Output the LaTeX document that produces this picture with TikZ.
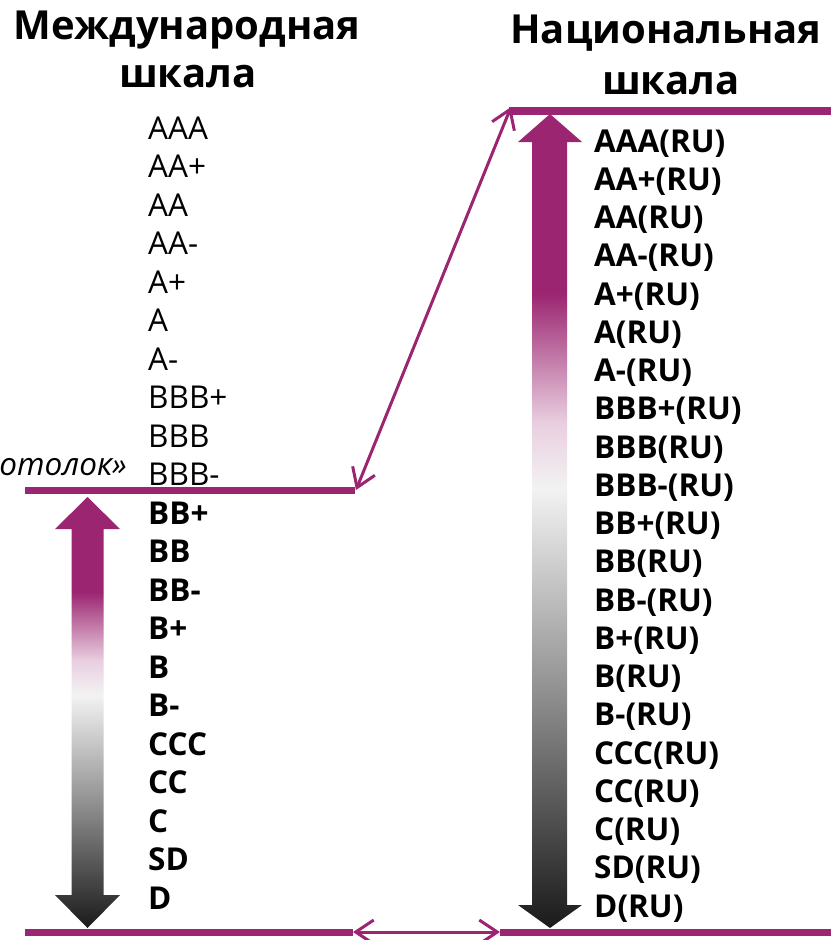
\documentclass[tikz,border=0pt]{standalone}
\usepackage{fontspec}
\setmainfont{Open Sans}
\usetikzlibrary{arrows.meta}
\definecolor{plum}{RGB}{155,37,113}
\definecolor{inkdark}{RGB}{26,26,26}
% vertical fill of the block arrows: plum at the top, white in the middle, near-black at the bottom
\pgfdeclareverticalshading{scalefade}{100bp}{%
  color(0bp)=(inkdark); color(25bp)=(inkdark); color(40bp)=(black!42);
  color(52bp)=(black!5); color(56bp)=(plum!22); color(64bp)=(plum); color(100bp)=(plum)}
\tikzset{
  rule/.style={draw=plum, line width=7pt},
  link/.style={draw=plum, line width=3pt,
    {Straight Barb[length=18pt,width=24pt]}-{Straight Barb[length=18pt,width=24pt]}},
  title/.style={anchor=base, inner sep=0pt, font=\fontsize{40}{46}\selectfont\bfseries},
  grade/.style={anchor=base west, inner sep=0pt, font=\fontsize{31.5}{36}\selectfont},
  natgrade/.style={grade, font=\fontsize{31.5}{36}\selectfont\bfseries},
  blockarrow/.style={shading=scalefade, draw=none}
}
\begin{document}
\begin{tikzpicture}[x=1pt,y=-1pt]
\useasboundingbox (0,0) rectangle (831,940);

% headings
\node[title] (intlA) at (187,39) {Международная};
\node[title] (intlB) at (188,87) {шкала};
\node[title] (natA) at (666,43) {Национальная};
\node[title] (natB) at (671,94) {шкала};

% horizontal rules
\coordinate (lcapL) at (25,490);  \coordinate (lcapR) at (355,490);
\coordinate (rtopL) at (509,111); \coordinate (rtopR) at (831,111);
\coordinate (lbotL) at (25,932);  \coordinate (lbotR) at (353,932);
\coordinate (rbotL) at (500,932); \coordinate (rbotR) at (831,932);
\draw[rule] (lcapL) -- (lcapR);
\draw[rule, line width=8pt] (rtopL) -- (rtopR);
\draw[rule] (lbotL) -- (lbotR);
\draw[rule] (rbotL) -- (rbotR);

% links between the two scales
\draw[link] ([xshift=1pt]lcapR) -- ([shift={(2pt,4pt)}]rtopL);
\draw[link] (lbotR) -- (rbotL);

% left double block arrow
\path[blockarrow] (87.5,497) -- (120,529) -- (103.5,529) -- (103.5,895)
  -- (120,895) -- (87.5,928) -- (55,895) -- (71.5,895) -- (71.5,529)
  -- (55,529) -- cycle;
% right double block arrow
\path[blockarrow] (550,114) -- (582,142) -- (567,142) -- (567,905)
  -- (582,905) -- (550,928) -- (518,905) -- (532,905) -- (532,142)
  -- (518,142) -- cycle;

% international grades
\foreach \g [count=\i] in {AAA,AA+,AA,AA-,A+,A,A-,BBB+,BBB,BBB-,BB+,BB,BB-,B+,B,B-,CCC,CC,C,SD,D}
  \node[grade] (int\i) at (148,{139+(\i-1)*38.5}) {\ifnum\i>10 \bfseries\fi\g};

% national grades
\foreach \g [count=\i] in {AAA,AA+,AA,AA-,A+,A,A-,BBB+,BBB,BBB-,BB+,BB,BB-,B+,B,B-,CCC,CC,C,SD,D}
  \node[natgrade] (nat\i) at (594,{152+(\i-1)*38.25}) {\g(RU)};

% ceiling label
\node[anchor=base east, inner sep=0pt, font=\fontsize{31.5}{36}\selectfont\itshape] (ceil) at (127,475) {«потолок»};
\end{tikzpicture}
\end{document}
